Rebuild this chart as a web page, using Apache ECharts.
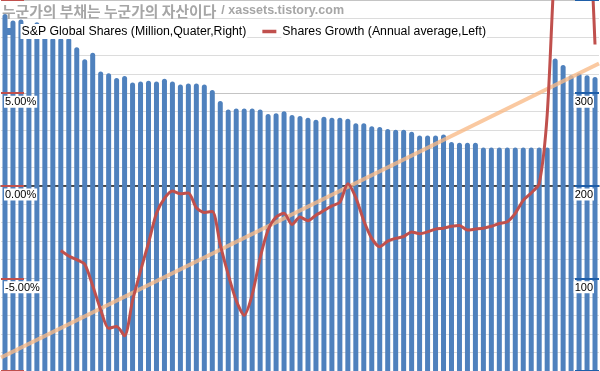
<!DOCTYPE html>
<html><head><meta charset="utf-8">
<script src="https://cdn.jsdelivr.net/npm/echarts@6/dist/echarts.min.js"></script>
<style>html,body{margin:0;padding:0;background:#fff}#c{width:600px;height:371px}</style>
</head><body><div id="c"></div>
<script>
var quarters = ['2004Q4','2005Q1','2005Q2','2005Q3','2005Q4','2006Q1','2006Q2','2006Q3','2006Q4','2007Q1','2007Q2','2007Q3','2007Q4','2008Q1','2008Q2','2008Q3','2008Q4','2009Q1','2009Q2','2009Q3','2009Q4','2010Q1','2010Q2','2010Q3','2010Q4','2011Q1','2011Q2','2011Q3','2011Q4','2012Q1','2012Q2','2012Q3','2012Q4','2013Q1','2013Q2','2013Q3','2013Q4','2014Q1','2014Q2','2014Q3','2014Q4','2015Q1','2015Q2','2015Q3','2015Q4','2016Q1','2016Q2','2016Q3','2016Q4','2017Q1','2017Q2','2017Q3','2017Q4','2018Q1','2018Q2','2018Q3','2018Q4','2019Q1','2019Q2','2019Q3','2019Q4','2020Q1','2020Q2','2020Q3','2020Q4','2021Q1','2021Q2','2021Q3','2021Q4','2022Q1','2022Q2','2022Q3','2022Q4','2023Q1','2023Q2'];
var shares = [385,378,379,374,376,363,359,359,359,349,336,343,323,321,316,318,311,312,313,312,315,312,309,310,310,309,303,291,282,283,283,283,282,277,278,280,276,275,273,271,274,273,273,272,267,267,264,263,261,260,260,258,254,254,254,255,247,246,246,246,241,241,241,241,241,241,241,241,241,337,330,319,321,319,317];
var growth = [null,null,null,null,null,null,null,-3.5,-3.8,-4.0,-4.25,-5.4,-6.7,-7.7,-7.6,-8.1,-6.2,-4.6,-3.1,-1.5,-0.7,-0.3,-0.45,-0.4,-1.2,-1.45,-1.4,-3.2,-4.8,-6.2,-7.0,-5.9,-3.9,-2.4,-1.7,-1.5,-2.1,-1.7,-1.9,-1.6,-1.35,-1.1,-0.9,0.1,-0.65,-1.9,-2.85,-3.3,-3.0,-2.85,-2.75,-2.5,-2.6,-2.5,-2.35,-2.3,-2.2,-2.15,-2.4,-2.35,-2.3,-2.2,-2.05,-1.95,-1.5,-0.8,-0.4,0.1,3.8,12.3,16,17,16.5,15.5,7.6];
var trendEnds = ['start','end'];
var trendValues = [-9.27, 6.58];
var leftTicks = {min:-10, max:10, interval:5};
var rightTicks = {min:0, max:400, interval:100};
var nameShares = 'S&P Global Shares (Million,Quater,Right)';
var nameGrowth = 'Shares Growth (Annual average,Left)';

var FONT = "'Liberation Sans', Arial, sans-serif";
var chart = echarts.init(document.getElementById('c'), null, {renderer:'canvas'});
var leftFmt = function(v){return Math.abs(v)>=10?'':'{a|'+v.toFixed(2)+'%}';};
var rightFmt = function(v){return (v<=0||v>=400)?'':'{a|'+v+'}';};
var labelRich = {a:{fontFamily:FONT, fontSize:11, color:'#000', backgroundColor:'#fff', padding:[1,1,0,1]}};
chart.setOption({
  animation:false,
  backgroundColor:'#fff',
  title:{
    text:'{k|누군가의 부채는 누군가의 자산이다} {e|/ xassets.tistory.com}',
    left:2, top:2, padding:0,
    textStyle:{rich:{
      k:{fontFamily:"'Noto Sans CJK KR', sans-serif", fontSize:14.8, color:'#a6a6a6'},
      e:{fontFamily:FONT, fontSize:12.5, fontWeight:'bold', color:'#a6a6a6'}
    }}
  },
  legend:{
    left:5, top:24, padding:0, itemGap:15, itemWidth:14, itemHeight:7,
    textStyle:{fontFamily:FONT, fontSize:12.3, color:'#000', backgroundColor:'#fff', padding:[2,1,1,1]},
    data:[
      {name:nameShares, icon:'path://M0,0H7V7H0Z'},
      {name:nameGrowth, icon:'path://M0,0H12V3H0Z'}
    ]
  },
  grid:{left:1, top:-1, width:598, height:372, containLabel:false},
  xAxis:[
    {type:'category', data:quarters, boundaryGap:true,
     axisLine:{show:true, onZero:true, onZeroAxisIndex:0, lineStyle:{color:'#1a1a1a', width:1.5}},
     axisTick:{show:false}, axisLabel:{show:false}, splitLine:{show:false}},
    {type:'category', data:trendEnds, boundaryGap:false, show:false}
  ],
  yAxis:[
    {type:'value', position:'left', min:leftTicks.min, max:leftTicks.max, interval:leftTicks.interval,
     axisLine:{show:false}, axisTick:{show:false}, axisLabel:{show:false},
     splitLine:{show:true, lineStyle:{color:'#c4c4c4', width:1}},
     minorTick:{show:false, splitNumber:5},
     minorSplitLine:{show:true, lineStyle:{color:'#dcdcdc', width:1}}},
    {type:'value', position:'right', min:rightTicks.min, max:rightTicks.max, interval:rightTicks.interval,
     axisLine:{show:false}, axisTick:{show:false}, axisLabel:{show:false}, splitLine:{show:false}},
    {type:'value', position:'left', min:leftTicks.min, max:leftTicks.max, interval:leftTicks.interval, z:10,
     axisLine:{show:false},
     axisTick:{show:true, inside:true, length:23, lineStyle:{color:'#c0504d', width:2}},
     axisLabel:{inside:true, margin:3, verticalAlign:'top', padding:[3,0,0,0], rich:labelRich, formatter:leftFmt},
     splitLine:{show:false}},
    {type:'value', position:'right', min:rightTicks.min, max:rightTicks.max, interval:rightTicks.interval, z:10,
     axisLine:{show:false},
     axisTick:{show:true, inside:true, length:24, lineStyle:{color:'#1f5ea8', width:2}},
     axisLabel:{inside:true, margin:5, verticalAlign:'top', padding:[3,0,0,0], rich:labelRich, formatter:rightFmt},
     splitLine:{show:false}}
  ],
  series:[
    {name:nameShares, type:'bar', xAxisIndex:0, yAxisIndex:1, data:shares, barWidth:5,
     itemStyle:{color:'#4f81bd', borderRadius:[2.5,2.5,0,0]}, z:2},
    {name:'trend', type:'line', xAxisIndex:1, yAxisIndex:0, data:trendValues, symbol:'none',
     lineStyle:{color:'rgba(249,186,134,0.78)', width:4}, z:3, silent:true},
    {name:nameGrowth, type:'line', xAxisIndex:0, yAxisIndex:0, data:growth, symbol:'none', smooth:0.25,
     lineStyle:{color:'#c0504d', width:3}, itemStyle:{color:'#c0504d'}, z:4}
  ]
});
</script></body></html>
